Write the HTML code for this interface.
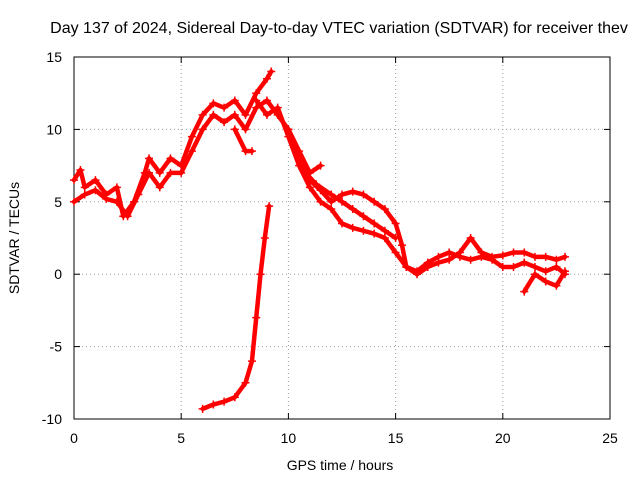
<!DOCTYPE html>
<html><head><meta charset="utf-8"><style>
body{margin:0;background:#fff;}
svg text{font-family:"Liberation Sans",sans-serif;font-size:14px;fill:#000;}
</style></head><body>
<svg id="chart" width="640" height="480" xmlns="http://www.w3.org/2000/svg">
<rect width="640" height="480" fill="#fff"/>
<text x="339" y="33" text-anchor="middle" style="font-size:16px">Day 137 of 2024, Sidereal Day-to-day VTEC variation (SDTVAR) for receiver thev</text>
<text x="340" y="470" text-anchor="middle">GPS time / hours</text>
<text transform="translate(19,238) rotate(-90)" text-anchor="middle">SDTVAR / TECUs</text>
<g id="grid"></g><g id="axes"></g><g id="marks"></g>
</svg>
<script>
const xTicks=[0,5,10,15,20,25];
const yTicks=[-10,-5,0,5,10,15];
const seriesRise=[[6.0,-9.3],[6.5,-9.0],[7.0,-8.8],[7.5,-8.5],[8.0,-7.5],[8.3,-6],[8.5,-3],[8.7,0],[8.9,2.5],[9.1,4.7]];
const seriesUpper=[[0,6.5],[0.3,7.2],[0.5,6],[1,6.5],[1.5,5.5],[2,6],[2.3,4],[2.8,5],[3.3,7],[3.5,8],[4,7],[4.5,8],[5,7.5],[5.5,9.5],[6,11],[6.5,11.8],[7,11.5],[7.5,12],[8,11],[8.5,12.5],[9,13.5],[9.2,14]];
const seriesMain=[[0,5],[0.5,5.5],[1,5.8],[1.5,5.2],[2,5],[2.5,4],[3,5.5],[3.5,7],[4,6],[4.5,7],[5,7],[5.5,8.5],[6,10],[6.5,11],[7,10.5],[7.5,11],[8,10],[8.5,11.5],[9,12],[9.5,11],[10,10],[10.5,8],[11,6.5],[11.5,5.8],[12,5],[12.5,5.5],[13,5.7],[13.5,5.5],[14,5],[14.5,4.5],[15,3.5],[15.3,2],[15.5,0.5],[16,0],[16.5,0.5],[17,0.8],[17.5,1],[18,1.5],[18.5,2.5],[19,1.5],[19.5,1.2],[20,1.3],[20.5,1.5],[21,1.5],[21.5,1.2],[22,1.2],[22.5,1],[22.9,1.2]];
const seriesLower=[[7.5,10],[8,8.5],[8.3,8.5]];
const seriesDecline=[[8.5,12],[9,11],[9.5,11.5],[10,9.5],[10.5,7.5],[11,6],[11.5,5],[12,4.5],[12.5,3.5],[13,3.2],[13.5,3],[14,2.8],[14.5,2.5],[15,1.5],[15.5,0.5],[16,0.2],[16.5,0.8],[17,1.2],[17.5,1.5],[18,1.2],[18.5,1],[19,1.2],[19.5,1.0],[20,0.5],[20.5,0.5],[21,0.8],[21.5,0.5],[22,0.2],[22.5,0.5],[22.9,0.0]];
const seriesMidA=[[10,10],[10.5,8.5],[11,7],[11.5,7.5]];
const seriesMidB=[[10.8,7],[11.3,6.2],[12,5.5],[12.5,5],[13,4.5],[13.5,4],[14,3.5],[14.5,3],[15,2.5]];
const seriesTail=[[21,-1.2],[21.5,0],[22,-0.5],[22.5,-0.8],[22.9,0.2]];
const allSeries=[seriesRise,seriesUpper,seriesMain,seriesLower,seriesDecline,seriesMidA,seriesMidB,seriesTail];

const L=74,R=610,T=57,B=419;
const xs=v=>L+(v-0)/(25-0)*(R-L);
const ys=v=>B-(v+10)/(15+10)*(B-T);
const NS="http://www.w3.org/2000/svg";
const mk=(tag,attrs,parent)=>{const e=document.createElementNS(NS,tag);for(const k in attrs)e.setAttribute(k,attrs[k]);parent.appendChild(e);return e;};
const grid=document.getElementById('grid'),axes=document.getElementById('axes'),marks=document.getElementById('marks');
xTicks.forEach(t=>{
  const x=xs(t);
  if(t>0&&t<25){const g=mk('line',{x1:x,x2:x,y1:T,y2:B,stroke:'#a0a0a0','stroke-dasharray':'1,3'},grid);
  
  }
  mk('line',{x1:x,x2:x,y1:B,y2:B-6,stroke:'#000'},axes);
  mk('line',{x1:x,x2:x,y1:T,y2:T+6,stroke:'#000'},axes);
  const tx=mk('text',{x:x,y:B+24,'text-anchor':'middle'},axes);tx.textContent=t;
  
  
});
yTicks.forEach(t=>{
  const y=ys(t);
  if(t>-10&&t<15){const g=mk('line',{x1:L,x2:R,y1:y,y2:y,stroke:'#a0a0a0','stroke-dasharray':'1,3'},grid);
  
  }
  mk('line',{x1:L,x2:L+6,y1:y,y2:y,stroke:'#000'},axes);
  mk('line',{x1:R,x2:R-6,y1:y,y2:y,stroke:'#000'},axes);
  const tx=mk('text',{x:L-12,y:y+5,'text-anchor':'end'},axes);tx.textContent=t;
  
  
});
const frame=mk('rect',{x:L,y:T,width:R-L,height:B-T,fill:'none',stroke:'#000'},axes);


allSeries.forEach(s=>{
  const pl=mk('polyline',{points:s.map(p=>xs(p[0])+','+ys(p[1])).join(' '),fill:'none',stroke:'#f00','stroke-width':4.5,'stroke-linejoin':'round','stroke-linecap':'round'},marks);
  
  
  s.forEach(p=>{
    const x=xs(p[0]),y=ys(p[1]);
    const m=mk('path',{d:`M${x-4},${y}H${x+4}M${x},${y-4}V${y+4}`,stroke:'#f00','stroke-width':1.5},marks);
    
    
  });
});
</script>
</body></html>
